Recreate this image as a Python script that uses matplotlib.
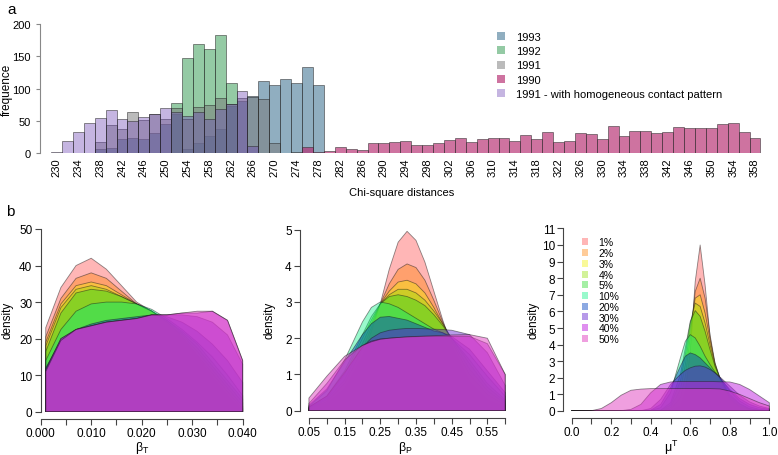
import matplotlib
matplotlib.use("Agg")
import matplotlib.pyplot as plt
from matplotlib.patches import Patch

W, H = 778, 456
plt.rcParams['font.family'] = ['Liberation Sans', 'DejaVu Sans']
plt.rcParams['mathtext.fontset'] = 'custom'
plt.rcParams['mathtext.rm'] = 'Liberation Sans'

# ---------------- panel a : histogram of chi-square distances ----------------
bins = list(range(230, 359, 2))
xtick_vals = list(range(230, 359, 4))

y1993 = [0, 0, 0, 0, 6, 7, 22, 23, 22, 31, 45, 60, 6, 16, 26, 37, 73, 81, 89,
         111, 105, 115, 108, 134, 105] + [0] * 40
y1992 = [0] * 11 + [77, 148, 169, 162, 183, 108] + [0] * 48
y1991 = [0, 0, 0, 0, 17, 43, 37, 63, 51, 60, 52, 70, 53, 71, 74, 86, 76, 85,
         87, 83, 16, 0, 1] + [0] * 42
y1990 = [0] * 23 + [10, 2, 3, 9, 6, 5, 16, 16, 17, 19, 12, 12, 15, 20, 24, 17,
                    22, 24, 23, 18, 28, 21, 33, 17, 19, 31, 30, 22, 42, 26, 34,
                    34, 31, 33, 40, 39, 38, 39, 45, 46, 33, 24]
yhomog = [1, 19, 33, 47, 55, 66, 53, 49, 56, 61, 69, 63, 58, 63, 53, 68, 76,
          96, 11] + [0] * 46

hist_names = ["1993", "1992", "1991", "1990",
              "1991 - with homogeneous contact pattern"]
hist_data = [y1993, y1992, y1991, y1990, yhomog]
hist_cols = [(70/255, 120/255, 150/255, 0.6),
             (60/255, 160/255, 90/255, 0.55),
             (120/255, 120/255, 120/255, 0.5),
             (180/255, 40/255, 110/255, 0.65),
             (110/255, 70/255, 180/255, 0.4)]

# ---------------- panel b : posterior densities ----------------
pct_labels = ["1%", "2%", "3%", "4%", "5%", "10%", "20%", "30%", "40%", "50%"]
dens_cols = ['#ff3030', '#ff8000', '#f0f000', '#90e000', '#20d820',
             '#00f080', '#0040c0', '#6020d0', '#c020e0', '#e040c0']
dens_alpha = [0.35, 0.4, 0.4, 0.4, 0.4, 0.4, 0.45, 0.45, 0.5, 0.5]

bt_x = [0.001, 0.004, 0.007, 0.010, 0.013, 0.016, 0.019, 0.022, 0.025,
        0.028, 0.031, 0.034, 0.037, 0.040]
bt_y = [
    [23, 34, 40, 42, 39, 34.5, 30, 27.5, 24, 20, 15, 9.5, 4.5, 0.3],
    [20.5, 31, 36.5, 38, 36.5, 33, 29.5, 27.5, 24.5, 20.5, 15.5, 10.5, 5.5, 0.8],
    [19, 29.5, 34.5, 35.5, 34.5, 32, 29.5, 27.5, 24.5, 21, 16.5, 11.5, 6.5, 1.5],
    [18, 28.5, 33.5, 34.5, 33.5, 31.5, 29.5, 27.5, 25, 21.5, 17.5, 12.5, 7.5, 2.5],
    [16.5, 27, 32.5, 33.5, 33, 31.5, 29.5, 27.5, 25, 22, 18.5, 13.5, 8.5, 3.5],
    [14, 22.5, 27.5, 29.5, 30, 30, 29.5, 28, 25.5, 22.5, 19, 15, 10, 4.4],
    [12, 19.5, 22.5, 24, 25, 25.5, 26, 26.5, 26, 24.5, 22, 18.5, 14, 8],
    [11.5, 20, 22.5, 23.5, 24.5, 25, 25.5, 26.5, 26.5, 26.5, 26, 24.5, 21, 13],
    [11.5, 20, 22.5, 23.5, 24.5, 25, 25.5, 26.5, 26.5, 27, 27, 27.5, 25, 14],
    [11, 19.5, 22.5, 23.5, 24.5, 25, 25.5, 26.5, 26.5, 27, 27.5, 27.5, 25, 14],
]

bp_x = [0.05, 0.10, 0.15, 0.20, 0.225, 0.25, 0.275, 0.30, 0.325, 0.35,
        0.375, 0.40, 0.425, 0.45, 0.50, 0.55, 0.60]
bp_y = [
    [0.05, 0.2, 0.6, 1.5, 2.2, 2.95, 3.9, 4.65, 4.95, 4.7, 4.1, 3.3, 2.5, 1.8, 0.8, 0.3, 0.1],
    [0.06, 0.25, 0.75, 1.7, 2.3, 2.95, 3.5, 3.9, 4.05, 3.95, 3.6, 3.05, 2.45, 1.9, 1.0, 0.45, 0.15],
    [0.07, 0.3, 0.85, 1.85, 2.4, 2.95, 3.3, 3.55, 3.6, 3.5, 3.25, 2.85, 2.4, 1.95, 1.15, 0.55, 0.2],
    [0.08, 0.35, 1.0, 2.0, 2.5, 2.95, 3.2, 3.35, 3.35, 3.25, 3.05, 2.75, 2.4, 2.0, 1.3, 0.65, 0.25],
    [0.1, 0.4, 1.1, 2.1, 2.6, 2.95, 3.15, 3.2, 3.15, 3.05, 2.9, 2.65, 2.35, 2.0, 1.4, 0.75, 0.3],
    [0.12, 0.55, 1.4, 2.45, 2.85, 3.0, 2.95, 2.85, 2.7, 2.55, 2.4, 2.25, 2.15, 2.0, 1.55, 0.95, 0.4],
    [0.15, 0.6, 1.35, 2.1, 2.4, 2.58, 2.6, 2.55, 2.5, 2.4, 2.3, 2.2, 2.15, 2.05, 1.7, 1.1, 0.5],
    [0.1, 0.4, 1.05, 1.75, 2.0, 2.15, 2.22, 2.25, 2.27, 2.27, 2.26, 2.25, 2.24, 2.22, 2.1, 1.6, 0.7],
    [0.2, 0.75, 1.4, 1.8, 1.92, 1.98, 2.0, 2.02, 2.03, 2.04, 2.05, 2.05, 2.05, 2.05, 2.05, 1.85, 1.0],
    [0.35, 0.95, 1.5, 1.8, 1.9, 1.97, 2.0, 2.02, 2.04, 2.05, 2.06, 2.07, 2.08, 2.09, 2.1, 2.0, 1.0],
]

mt_x = [0.0, 0.1, 0.15, 0.2, 0.25, 0.3, 0.35, 0.4, 0.45, 0.5, 0.55, 0.575,
        0.6, 0.625, 0.65, 0.675, 0.7, 0.725, 0.75, 0.8, 0.85, 0.9, 0.95, 1.0]
mt_y = [
    [0, 0, 0, 0, 0, 0, 0, 0, 0, 0.02, 0.3, 1.2, 3.6, 7.8, 10.0, 7.6, 4.5, 2.7, 1.9, 0.7, 0.2, 0.05, 0.01, 0],
    [0, 0, 0, 0, 0, 0, 0, 0, 0.01, 0.1, 0.8, 2.1, 4.5, 7.2, 8.0, 6.8, 4.6, 2.9, 1.9, 0.7, 0.25, 0.08, 0.02, 0.01],
    [0, 0, 0, 0, 0, 0, 0, 0, 0.02, 0.2, 1.3, 2.8, 5.0, 6.8, 7.0, 5.9, 4.3, 2.9, 2.0, 0.8, 0.3, 0.1, 0.03, 0.01],
    [0, 0, 0, 0, 0, 0, 0, 0.01, 0.04, 0.35, 1.8, 3.4, 5.3, 6.5, 6.3, 5.3, 4.0, 2.8, 2.0, 0.9, 0.4, 0.12, 0.04, 0.01],
    [0, 0, 0, 0, 0, 0, 0, 0.01, 0.05, 0.5, 2.2, 3.8, 5.4, 6.05, 5.7, 4.8, 3.7, 2.7, 2.0, 1.0, 0.45, 0.15, 0.05, 0.02],
    [0, 0, 0, 0, 0, 0, 0, 0.03, 0.2, 1.1, 3.2, 4.2, 4.6, 4.4, 3.9, 3.3, 2.8, 2.35, 2.0, 1.2, 0.6, 0.25, 0.1, 0.05],
    [0, 0, 0, 0, 0, 0, 0.01, 0.05, 0.4, 1.4, 2.7, 3.3, 3.5, 3.4, 3.2, 2.9, 2.6, 2.3, 2.0, 1.3, 0.75, 0.4, 0.2, 0.1],
    [0, 0, 0, 0, 0, 0, 0.02, 0.15, 0.7, 1.6, 2.2, 2.45, 2.6, 2.7, 2.72, 2.65, 2.5, 2.3, 2.05, 1.5, 0.95, 0.55, 0.3, 0.15],
    [0, 0, 0, 0, 0.02, 0.1, 0.4, 1.1, 1.6, 1.75, 1.78, 1.78, 1.78, 1.78, 1.78, 1.78, 1.78, 1.77, 1.76, 1.75, 1.6, 1.3, 0.9, 0.5],
    [0, 0.02, 0.15, 0.5, 0.95, 1.25, 1.32, 1.35, 1.35, 1.35, 1.35, 1.35, 1.35, 1.35, 1.35, 1.35, 1.35, 1.34, 1.33, 1.2, 1.0, 0.75, 0.5, 0.3],
]

fig = plt.figure(figsize=(W / 100, H / 100), dpi=100)


def add_ax(x0, x1, ytop, ybot):
    # axes placed in pixel coordinates of the figure
    return fig.add_axes([x0 / W, 1 - ybot / H, (x1 - x0) / W, (ybot - ytop) / H])


# ---- panel a
ax = add_ax(40, 765.9, 25, 154)
for counts, col in zip(hist_data, hist_cols):
    xs = [b for b, c in zip(bins, counts) if c > 0]
    hs = [c for c in counts if c > 0]
    ax.bar(xs, hs, width=2, color=col, edgecolor=(0.15, 0.15, 0.15, 0.6),
           linewidth=0.6)
ax.set_xlim(226.98, 360)
ax.set_ylim(0, 200)
for s in ['top', 'right', 'bottom']:
    ax.spines[s].set_visible(False)
ax.spines['left'].set_bounds(0, 200)
ax.spines['left'].set_color('#888888')
ax.set_yticks([0, 50, 100, 150, 200])
ax.tick_params(axis='y', length=3, width=0.8, color='#888888', labelsize=8, pad=3.5)
ax.set_xticks(xtick_vals)
ax.set_xticklabels([str(v) for v in xtick_vals], rotation=90)
ax.tick_params(axis='x', length=0, labelsize=8, pad=3)
fig.text(402 / W, 1 - 193 / H, "Chi-square distances", ha='center', va='center', fontsize=8)
fig.text(7 / W, 1 - 90 / H, "frequence", ha='center', va='center', rotation=90, fontsize=8.5)

handles = [Patch(facecolor=c, edgecolor='none') for c in hist_cols]
fig.legend(handles, hist_names, loc='upper left', bbox_to_anchor=(497 / W, 1 - 33 / H),
           frameon=False, fontsize=8, handlelength=0.75, handleheight=0.75,
           handletextpad=1.0, labelspacing=0.38, borderpad=0, borderaxespad=0)

fig.text(7 / W, 1 - 10 / H, "a", ha='left', va='center', fontsize=11)
fig.text(6 / W, 1 - 212 / H, "b", ha='left', va='center', fontsize=11)


# ---- panel b
def style_density(ax, xlim, ylim, xticks, xlabels, xbounds, yticks):
    ax.set_xlim(*xlim)
    ax.set_ylim(*ylim)
    ax.spines['top'].set_visible(False)
    ax.spines['right'].set_visible(False)
    ax.spines['bottom'].set_position(('outward', 5))
    ax.spines['bottom'].set_bounds(*xbounds)
    ax.spines['left'].set_bounds(yticks[0], yticks[-1])
    for s in ['bottom', 'left']:
        ax.spines[s].set_color('#444444')
        ax.spines[s].set_linewidth(0.8)
    ax.set_xticks(xticks)
    ax.set_xticklabels(xlabels)
    ax.set_yticks(yticks)
    ax.tick_params(length=4, width=0.8, color='#444444', labelsize=8.5, pad=2)


def draw_density(ax, x, curves):
    for ys, col, a in zip(curves, dens_cols, dens_alpha):
        ax.fill_between(x, 0, ys, facecolor=col, alpha=a, edgecolor='none')
        ax.fill_between(x, 0, ys, facecolor='none', edgecolor=(0.1, 0.1, 0.1, 0.5),
                        linewidth=0.6)


ax1 = add_ax(40.7, 245.2, 230, 412.7)
draw_density(ax1, bt_x, bt_y)
t1 = [i * 0.005 for i in range(9)]
style_density(ax1, (0, 0.0405), (0, 50), t1,
              [f"{v:.3f}" if i % 2 == 0 else "" for i, v in enumerate(t1)],
              (0, 0.04), [0, 10, 20, 30, 40, 50])

ax2 = add_ax(300, 507, 230.5, 411.7)
draw_density(ax2, bp_x, bp_y)
t2 = [0.05 + i * 0.05 for i in range(12)]
style_density(ax2, (0.025, 0.605), (0, 5), t2,
              [f"{v:.2f}" if i % 2 == 0 else "" for i, v in enumerate(t2)],
              (0.05, 0.60), [0, 1, 2, 3, 4, 5])

ax3 = add_ax(563.3, 771.3, 229.4, 412)
draw_density(ax3, mt_x, mt_y)
t3 = [i * 0.1 for i in range(11)]
style_density(ax3, (-0.0425, 1.01), (0, 11), t3,
              [f"{v:.1f}" if i % 2 == 0 else "" for i, v in enumerate(t3)],
              (0, 1), list(range(12)))

dh = [Patch(facecolor=c, alpha=a, edgecolor='none') for c, a in zip(dens_cols, dens_alpha)]
ax3.legend(dh, pct_labels, loc='upper left', bbox_to_anchor=(581.5 / W, 1 - 238.5 / H),
           bbox_transform=fig.transFigure, frameon=False, fontsize=7.5,
           handlelength=0.65, handleheight=0.65, handletextpad=1.0,
           labelspacing=0.07, borderpad=0, borderaxespad=0)

for xc in (8, 270, 533):
    fig.text(xc / W, 1 - 320 / H, "density", ha='center', va='center', rotation=90, fontsize=8.5)
fig.text(142 / W, 1 - 448 / H, "β$_{\\mathrm{T}}$", ha='center', va='center', fontsize=9)
fig.text(405.7 / W, 1 - 448 / H, "β$_{\\mathrm{P}}$", ha='center', va='center', fontsize=9)
fig.text(671.7 / W, 1 - 448 / H, "μ$^{\\mathrm{T}}$", ha='center', va='center', fontsize=9)

fig.savefig("out.png", dpi=100)
